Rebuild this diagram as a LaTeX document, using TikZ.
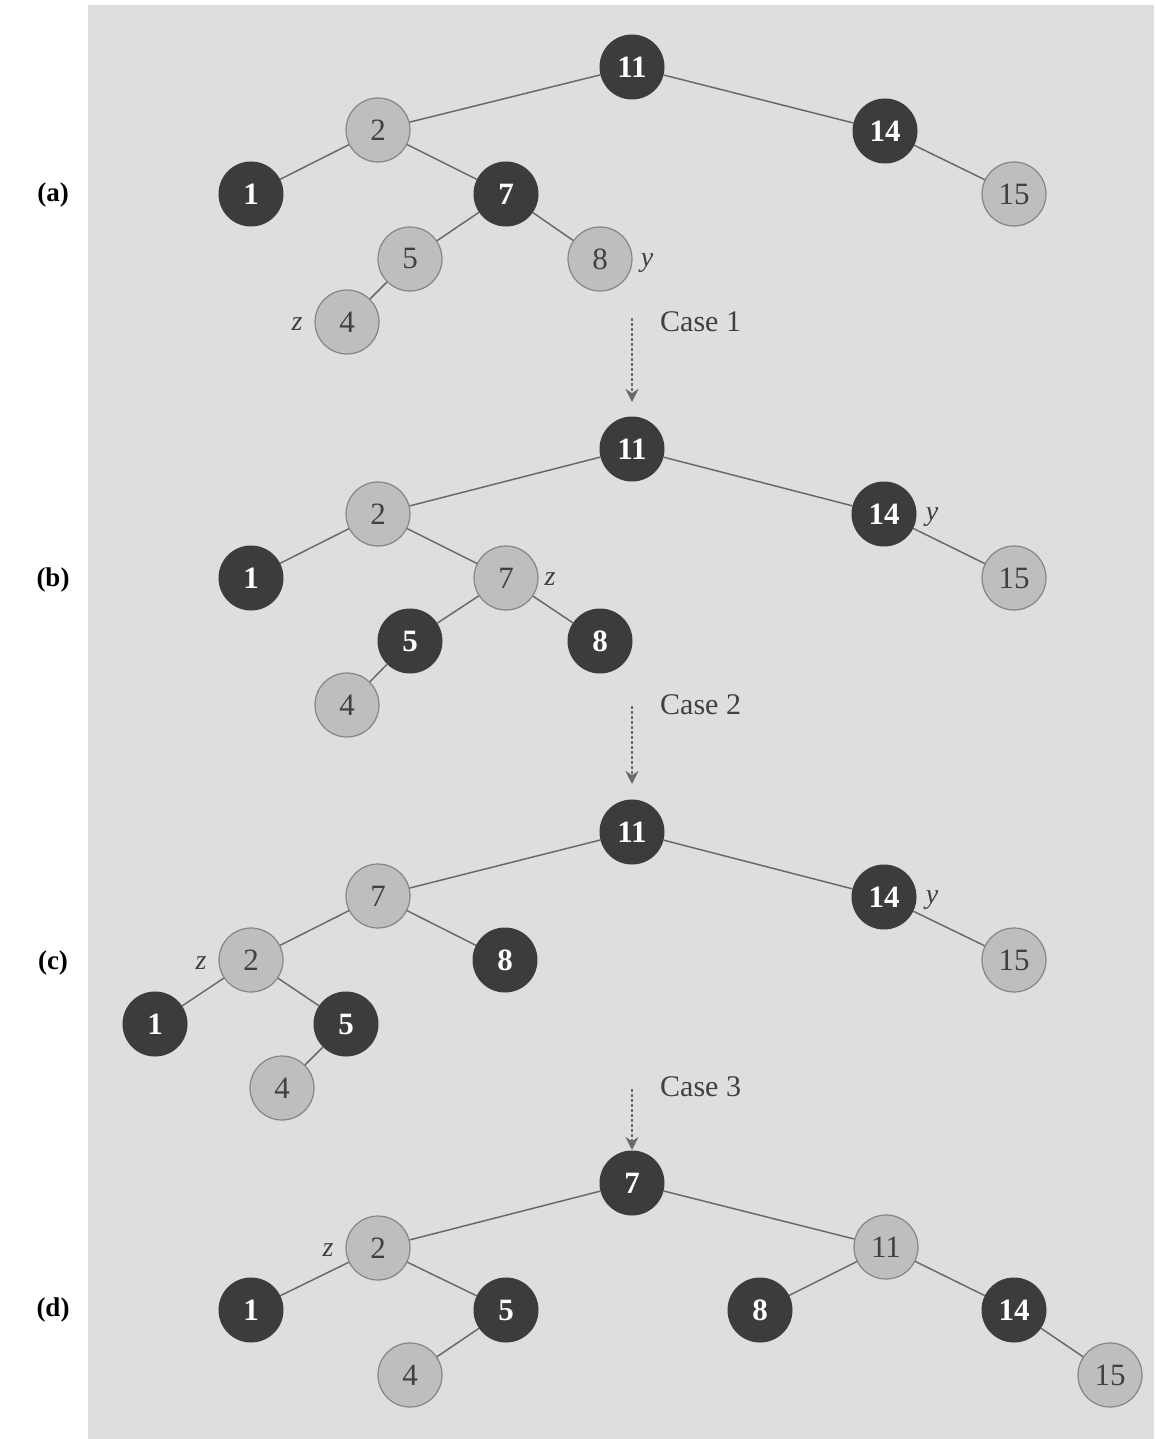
\documentclass[tikz,border=0pt]{standalone}
\usepackage{fontspec}
\setmainfont{Liberation Serif}
\usetikzlibrary{arrows.meta}
\definecolor{bgstip}{HTML}{DEDEDE}
\definecolor{nodedark}{HTML}{3C3C3C}
\definecolor{nodelight}{HTML}{BEBEBE}
\definecolor{nodeedge}{HTML}{858585}
\definecolor{linegray}{HTML}{6A6A6A}
\definecolor{textgray}{HTML}{404040}
\begin{document}
\begin{tikzpicture}[x=1pt,y=-1pt,
  rb/.style={circle,minimum size=64pt,inner sep=0pt,fill=nodedark,draw=nodedark,line width=1pt,text=white,font=\fontsize{31}{31}\selectfont\bfseries},
  lt/.style={circle,minimum size=64pt,inner sep=0pt,fill=nodelight,draw=nodeedge,line width=1.2pt,text=textgray,font=\fontsize{31}{31}\selectfont},
  edge/.style={draw=linegray,line width=1.5pt},
  tag/.style={font=\fontsize{28}{28}\selectfont\itshape,text=textgray,inner sep=0pt},
  casetxt/.style={font=\fontsize{30}{30}\selectfont,text=textgray,inner sep=0pt},
  panel/.style={font=\fontsize{27}{27}\selectfont\bfseries,text=black,inner sep=0pt},
  stepArrow/.style={draw=linegray,line width=2.5pt,dash pattern=on 2.5pt off 2.5pt,-{Stealth[length=13pt,width=13pt]}}
]
\useasboundingbox (0,0) rectangle (1154,1439);
\fill[bgstip] (88,5) rectangle (1154,1439);

% panel labels
\node[panel] (la) at (53,195) {(a)};
\node[panel] (lb) at (53,580) {(b)};
\node[panel] (lc) at (53,963) {(c)};
\node[panel] (ld) at (53,1310) {(d)};

% ---- tree (a)
\node[rb] (a11) at (632,67) {11};
\node[lt] (a2) at (378,130) {2};
\node[rb] (a14) at (885,131) {14};
\node[rb] (a1) at (251,194) {1};
\node[rb] (a7) at (506,194) {7};
\node[lt] (a15) at (1014,194) {15};
\node[lt] (a5) at (410,259) {5};
\node[lt] (a8) at (600,259) {8};
\node[lt] (a4) at (347,322) {4};
\node[tag] (ay) at (647,263) {y};
\node[tag] (az) at (297,324) {z};
\foreach \p/\c in {a11/a2,a11/a14,a2/a1,a2/a7,a14/a15,a7/a5,a7/a8,a5/a4}
  \draw[edge] (\p) -- (\c);

% ---- tree (b)
\node[rb] (b11) at (632,449) {11};
\node[lt] (b2) at (378,514) {2};
\node[rb] (b14) at (884,514) {14};
\node[rb] (b1) at (251,578) {1};
\node[lt] (b7) at (506,578) {7};
\node[lt] (b15) at (1014,578) {15};
\node[rb] (b5) at (410,641) {5};
\node[rb] (b8) at (600,641) {8};
\node[lt] (b4) at (347,705) {4};
\node[tag] (by) at (932,517) {y};
\node[tag] (bz) at (550,579) {z};
\foreach \p/\c in {b11/b2,b11/b14,b2/b1,b2/b7,b14/b15,b7/b5,b7/b8,b5/b4}
  \draw[edge] (\p) -- (\c);

% ---- tree (c)
\node[rb] (c11) at (632,832) {11};
\node[lt] (c7) at (378,896) {7};
\node[rb] (c14) at (884,897) {14};
\node[lt] (c2) at (251,960) {2};
\node[rb] (c8) at (505,960) {8};
\node[lt] (c15) at (1014,960) {15};
\node[rb] (c1) at (155,1024) {1};
\node[rb] (c5) at (346,1024) {5};
\node[lt] (c4) at (282,1088) {4};
\node[tag] (cy) at (932,900) {y};
\node[tag] (cz) at (201,963) {z};
\foreach \p/\c in {c11/c7,c11/c14,c7/c2,c7/c8,c14/c15,c2/c1,c2/c5,c5/c4}
  \draw[edge] (\p) -- (\c);

% ---- tree (d)
\node[rb] (d7) at (632,1183) {7};
\node[lt] (d2) at (378,1248) {2};
\node[lt] (d11) at (886,1247) {11};
\node[rb] (d1) at (251,1310) {1};
\node[rb] (d5) at (506,1310) {5};
\node[rb] (d8) at (760,1310) {8};
\node[rb] (d14) at (1014,1310) {14};
\node[lt] (d4) at (410,1375) {4};
\node[lt] (d15) at (1110,1375) {15};
\node[tag] (dz) at (328,1250) {z};
\foreach \p/\c in {d7/d2,d7/d11,d2/d1,d2/d5,d11/d8,d11/d14,d5/d4,d14/d15}
  \draw[edge] (\p) -- (\c);

% ---- transition arrows
\coordinate (s1) at (632,318); \coordinate (e1) at (632,402);
\coordinate (s2) at (632,706); \coordinate (e2) at (632,784);
\coordinate (s3) at (632,1089); \coordinate (e3) at (632,1150);
\draw[stepArrow] (s1) -- (e1);
\draw[stepArrow] (s2) -- (e2);
\draw[stepArrow] (s3) -- (e3);
\node[casetxt,anchor=west] (k1) at (660,322) {Case 1};
\node[casetxt,anchor=west] (k2) at (660,705) {Case 2};
\node[casetxt,anchor=west] (k3) at (660,1087) {Case 3};
\end{tikzpicture}
\end{document}
